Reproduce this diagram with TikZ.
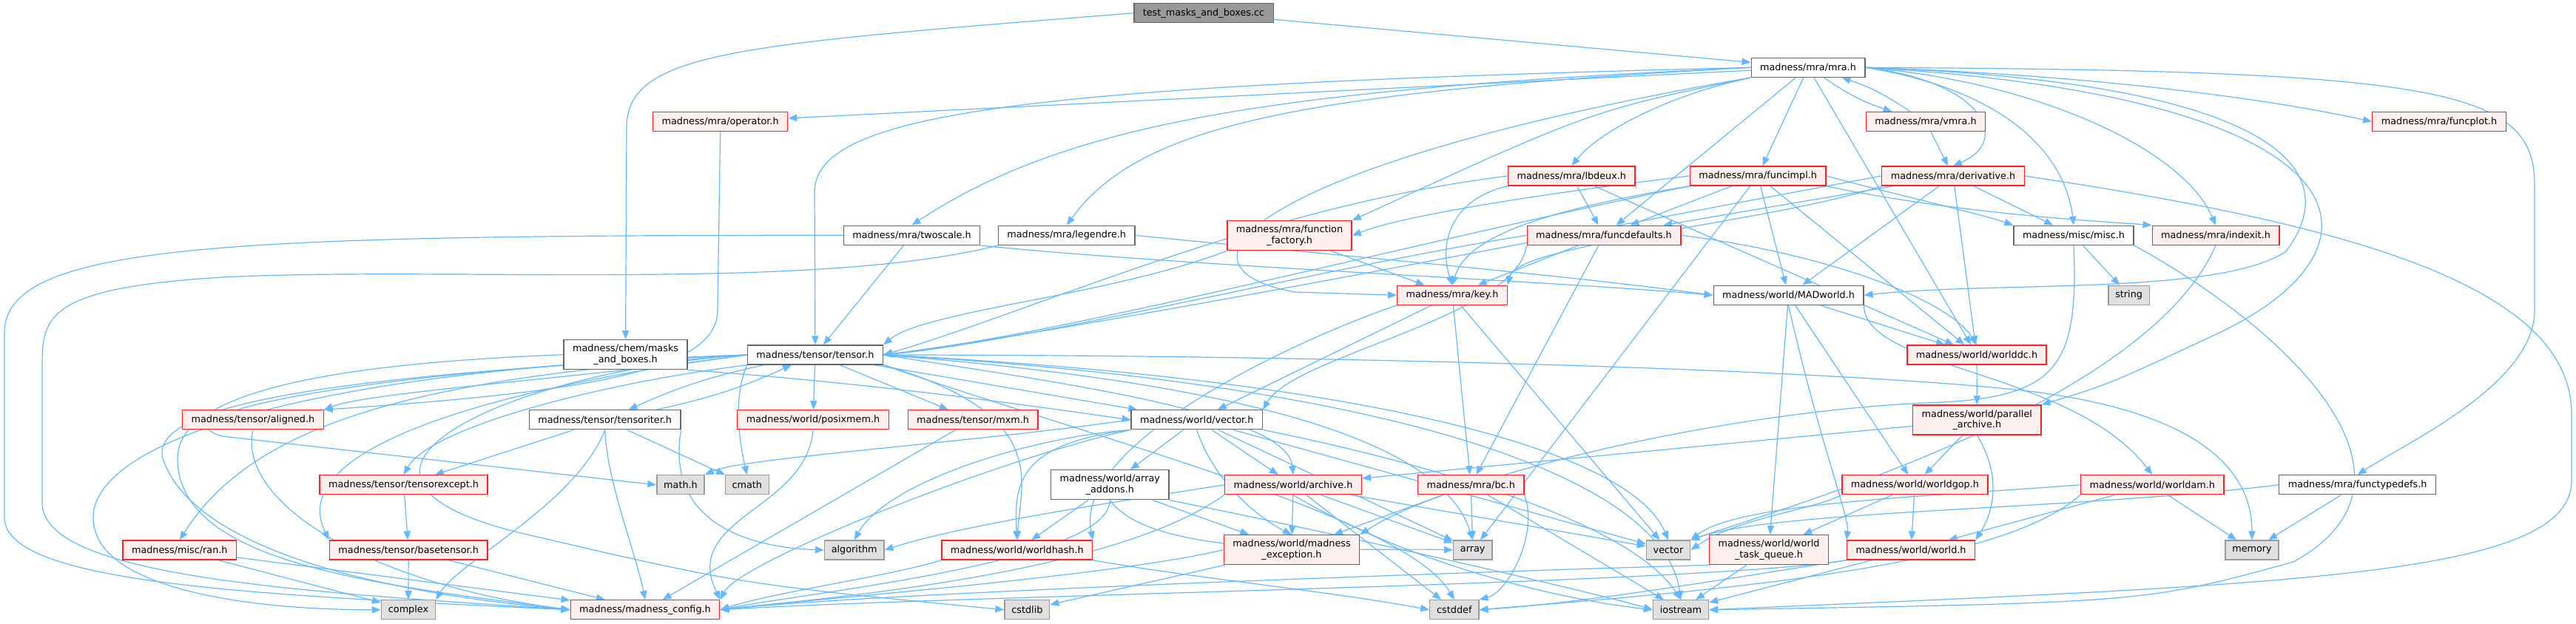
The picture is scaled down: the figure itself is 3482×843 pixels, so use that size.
\documentclass[tikz,border=0pt]{standalone}
\usepackage{fontspec}
\setmainfont{DejaVu Sans}
\usetikzlibrary{arrows.meta,backgrounds}
\definecolor{EdgeBlue}{HTML}{63B8FF}
\definecolor{RootFill}{HTML}{999999}
\definecolor{BoxLine}{HTML}{666666}
\definecolor{RedFill}{HTML}{FFF0F0}
\definecolor{RedLine}{HTML}{FF2020}
\definecolor{SysFill}{HTML}{E0E0E0}
\definecolor{SysLine}{HTML}{999999}

\tikzset{
  filebox/.style={draw=BoxLine, fill=white, line width=1pt, inner xsep=9pt, inner ysep=0pt,
                  minimum height=19.5pt, align=center, font=\fontsize{9.6}{11}\selectfont},
  redbox/.style={filebox, draw=RedLine, fill=RedFill},
  sysbox/.style={filebox, draw=SysLine, fill=SysFill, inner xsep=7pt},
  rootbox/.style={filebox, fill=RootFill},
  twoline/.style={minimum height=30pt},
  inc/.style={draw=EdgeBlue, line width=0.9pt, -{Triangle[length=9pt,width=7pt]}}
}

\begin{document}
\begin{tikzpicture}[x=0.75pt, y=-0.75pt]
  \useasboundingbox (0,0) rectangle (3482,843);

  % rank 0 - 3
  \node[rootbox] (root)     at (1627,17.7)  {test\_masks\_and\_boxes.cc};
  \node[filebox] (mra)      at (2444,91.3)  {madness/mra/mra.h};
  \node[redbox]  (oper)     at (973.6,164.5){madness/mra/operator.h};
  \node[redbox]  (vmra)     at (2603,164.5) {madness/mra/vmra.h};
  \node[redbox]  (fplot)    at (3297,164.5) {madness/mra/funcplot.h};
  \node[redbox]  (lbdeux)   at (2124.3,238) {madness/mra/lbdeux.h};
  \node[redbox]  (fimpl)    at (2376.2,238) {madness/mra/funcimpl.h};
  \node[redbox]  (deriv)    at (2640,238)   {madness/mra/derivative.h};
  % rank 4 - 5
  \node[filebox] (twoscale) at (1232.5,318.3){madness/mra/twoscale.h};
  \node[filebox] (legendre) at (1441.7,318.3){madness/mra/legendre.h};
  \node[redbox,twoline] (ffact) at (1743,318.7){madness/mra/function\\\_factory.h};
  \node[redbox]  (fdef)     at (2168,318.3) {madness/mra/funcdefaults.h};
  \node[filebox] (misc)     at (2803,318.3) {madness/misc/misc.h};
  \node[redbox]  (indexit)  at (2995,318.3) {madness/mra/indexit.h};
  \node[redbox]  (key)      at (1963,399.3) {madness/mra/key.h};
  \node[filebox] (madworld) at (2417.5,399.3){madness/world/MADworld.h};
  \node[sysbox]  (str)      at (2877.6,399.3){string};
  % rank 6 - 7
  \node[filebox,twoline] (masks) at (845.6,479.7){madness/chem/masks\\\_and\_boxes.h};
  \node[filebox] (tensor)   at (1101.9,480) {madness/tensor/tensor.h};
  \node[redbox]  (worlddc)  at (2672,480)   {madness/world/worlddc.h};
  \node[redbox]  (aligned)  at (341.9,567.8){madness/tensor/aligned.h};
  \node[filebox] (titer)    at (817.7,567.8){madness/tensor/tensoriter.h};
  \node[redbox]  (posix)    at (1099,567.8) {madness/world/posixmem.h};
  \node[redbox]  (mxm)      at (1315.1,567.8){madness/tensor/mxm.h};
  \node[filebox] (wvec)     at (1617.7,567.8){madness/world/vector.h};
  \node[redbox,twoline] (parch) at (2672.3,568){madness/world/parallel\\\_archive.h};
  % rank 8
  \node[redbox]  (texcept)  at (545.6,655.8){madness/tensor/tensorexcept.h};
  \node[sysbox]  (mathh)    at (920,655.8)  {math.h};
  \node[sysbox]  (cmath)    at (1009.8,655.8){cmath};
  \node[filebox,twoline] (aaddons) at (1500.3,655.8){madness/world/array\\\_addons.h};
  \node[redbox]  (archive)  at (1748,655.8) {madness/world/archive.h};
  \node[redbox]  (bc)       at (1988.2,655.8){madness/mra/bc.h};
  \node[redbox]  (wgop)     at (2588.4,655.8){madness/world/worldgop.h};
  \node[redbox]  (wam)      at (2909.3,655.8){madness/world/worldam.h};
  \node[filebox] (ftypes)   at (3186.6,655.8){madness/mra/functypedefs.h};
  % rank 9
  \node[redbox]  (ran)      at (242.8,744)  {madness/misc/ran.h};
  \node[redbox]  (btensor)  at (552.2,744)  {madness/tensor/basetensor.h};
  \node[sysbox]  (algo)     at (1154.7,744) {algorithm};
  \node[redbox]  (whash)    at (1374.8,744) {madness/world/worldhash.h};
  \node[redbox,twoline] (mexc) at (1746,743.7){madness/world/madness\\\_exception.h};
  \node[sysbox]  (array)    at (1990.7,744) {array};
  \node[sysbox]  (svec)     at (2255,744)   {vector};
  \node[redbox,twoline] (wtq) at (2391,743.7){madness/world/world\\\_task\_queue.h};
  \node[redbox]  (world)    at (2583,744)   {madness/world/world.h};
  \node[sysbox]  (memory)   at (3044,744)   {memory};
  % rank 10
  \node[sysbox]  (complex)  at (552,824.8)  {complex};
  \node[redbox]  (mconf)    at (872,824.8)  {madness/madness\_config.h};
  \node[sysbox]  (cstdlib)  at (1388.4,824.8){cstdlib};
  \node[sysbox]  (cstddef)  at (1965.8,824.8){cstddef};
  \node[sysbox]  (iostream) at (2272,824.8) {iostream};

  \begin{scope}[on background layer]
  % straight includes
  \foreach \a/\b in {root/mra, mra/oper, mra/fimpl, mra/fdef, mra/worlddc, vmra/deriv,
      twoscale/tensor, ffact/key, lbdeux/fdef, lbdeux/worlddc, fimpl/fdef, fimpl/madworld,
      fimpl/array, fimpl/worlddc, deriv/misc, deriv/fdef, deriv/madworld, deriv/worlddc,
      fdef/key, fdef/bc, key/bc, key/svec, key/wvec, madworld/worlddc, madworld/wgop,
      madworld/wtq, worlddc/parch, parch/wgop, parch/archive, wgop/wtq, wgop/world,
      wam/memory, wam/world, ftypes/memory, world/iostream, wtq/iostream, bc/array,
      bc/iostream, bc/mexc, archive/array, archive/svec, archive/mexc, archive/cstddef,
      aaddons/whash, aaddons/mexc, mexc/cstdlib, wvec/aaddons, wvec/archive, wvec/array,
      wvec/svec, tensor/posix, tensor/mxm, tensor/wvec, titer/texcept, titer/cmath,
      texcept/btensor, btensor/complex, btensor/mconf, ran/complex, ran/mconf,
      mxm/mconf, misc/str}
    \draw[inc] (\a) -- (\b);

  % mra.h and the upper ranks
  \draw[inc] (root.west) .. controls (1000,60) and (850,70) .. (847,170) -- (masks.north);
  \draw[inc] (mra.west) .. controls (1400,115) and (1101,150) .. (1101,260) -- (tensor.north);
  \draw[inc] (mra.west) .. controls (1750,120) and (1450,160) .. (twoscale.north);
  \draw[inc] (mra.west) .. controls (1750,125) and (1540,170) .. (legendre.north);
  \draw[inc] (mra.south west) .. controls (2150,150) .. (ffact.north east);
  \draw[inc] (mra.south west) .. controls (2250,130) and (2160,180) .. (lbdeux.north);
  \draw[inc] (mra.south west) .. controls (1700,220) and (1560,360) .. (1750,395) -- (key.west);
  \draw[inc] (mra) to[bend right=8] (vmra);
  \draw[inc] (vmra) to[bend right=8] (mra);
  \draw[inc] (mra.east) .. controls (2680,110) and (2720,190) .. (deriv.north);
  \draw[inc] (mra.east) .. controls (2700,120) and (2790,200) .. (misc.north);
  \draw[inc] (mra.east) .. controls (2750,110) and (2950,200) .. (indexit.north);
  \draw[inc] (mra.east) .. controls (2800,100) and (3050,130) .. (fplot.west);
  \draw[inc] (mra.east) .. controls (3300,95) and (3426,120) .. (3426,250) -- (3426,420)
    .. controls (3426,520) and (3250,600) .. (ftypes.north);
  \draw[inc] (mra.east) .. controls (3050,110) and (3180,220) .. (3090,340)
    .. controls (3000,400) and (2700,380) .. (madworld.east);
  \draw[inc] (mra.east) .. controls (3200,130) and (3250,330) .. (3000,450)
    .. controls (2850,520) .. (parch.north east);
  \draw[inc] (oper.south) -- (970,420) .. controls (970,500) and (800,530) .. (aligned.north east);

  % mra/*.h headers
  \draw[inc] (twoscale.south east) .. controls (1600,360) and (2100,380) .. (madworld.west);
  \draw[inc] (twoscale.west) .. controls (300,318) and (6,330) .. (6,450) -- (6,700)
    .. controls (6,790) and (350,805) .. (mconf.west);
  \draw[inc] (legendre.east) .. controls (1800,345) and (2100,370) .. (madworld.west);
  \draw[inc] (legendre.south west) .. controls (1100,395) and (600,360) .. (300,375)
    .. controls (57,390) and (57,430) .. (57,500) -- (57,680)
    .. controls (57,780) and (400,800) .. (mconf.west);
  \draw[inc] (ffact.south west) .. controls (1500,400) and (1250,420) .. (tensor.north east);
  \draw[inc] (lbdeux.south west) .. controls (1960,270) and (1945,330) .. (key.north);
  \draw[inc] (lbdeux.west) .. controls (1700,280) and (1400,420) .. (tensor.east);
  \draw[inc] (fimpl.west) .. controls (2100,260) and (1900,290) .. (ffact.east);
  \draw[inc] (fimpl.south west) .. controls (2050,290) and (1980,330) .. (key.north);
  \draw[inc] (fimpl.east) .. controls (2550,260) and (2680,290) .. (misc.north west);
  \draw[inc] (fimpl.south east) .. controls (2650,290) and (2850,300) .. (indexit.north west);
  \draw[inc] (fimpl.south west) .. controls (1900,330) and (1450,450) .. (tensor.east);
  \draw[inc] (deriv.east) .. controls (3150,300) and (3476,380) .. (3476,560) -- (3476,650)
    .. controls (3476,780) and (3100,790) .. (iostream.east);
  \draw[inc] (deriv.west) .. controls (2100,320) and (1500,440) .. (tensor.east);
  \draw[inc] (deriv.south west) .. controls (2400,300) and (2050,330) .. (key.north east);
  \draw[inc] (fdef.east) .. controls (2450,340) and (2630,400) .. (worlddc.north);
  \draw[inc] (fdef.south west) .. controls (2050,430) and (1750,480) .. (wvec.north east);
  \draw[inc] (fdef.west) .. controls (1800,360) and (1400,460) .. (tensor.east);
  \draw[inc] (key.south west) .. controls (1750,460) and (1450,600) .. (whash.north east);
  \draw[inc] (misc.south) .. controls (2810,500) and (2780,540) .. (2600,545)
    .. controls (2300,560) and (1950,650) .. (mexc.north east);
  \draw[inc] (misc.south east) .. controls (3100,450) and (3300,650) .. (3100,760)
    .. controls (2900,815) .. (iostream.east);
  \draw[inc] (indexit.south) .. controls (2900,550) and (2400,690) .. (svec.north east);

  % world headers
  \draw[inc] (madworld.south) .. controls (2460,600) and (2500,700) .. (world.north west);
  \draw[inc] (madworld.south east) .. controls (2520,500) and (2800,500) .. (wam.north);
  \draw[inc] (parch.south) .. controls (2710,650) and (2690,700) .. (world.north east);
  \draw[inc] (wam.west) .. controls (2600,672) and (2350,680) .. (svec.north east);
  \draw[inc] (wam.south west) .. controls (2700,770) and (2300,800) .. (cstddef.east);
  \draw[inc] (ftypes.west) .. controls (2800,690) and (2400,690) .. (svec.north east);
  \draw[inc] (wgop.south west) .. controls (2450,690) and (2350,700) .. (svec.east);
  \draw[inc] (world.south west) .. controls (2300,790) and (1300,805) .. (mconf.east);
  \draw[inc] (world.south west) .. controls (2350,780) and (2150,815) .. (cstddef.east);
  \draw[inc] (wtq.south west) .. controls (2100,770) and (1200,800) .. (mconf.east);
  \draw[inc] (bc.south east) .. controls (2080,720) and (2040,800) .. (cstddef.north east);
  \draw[inc] (archive.south) .. controls (1900,760) and (2100,810) .. (iostream.west);
  \draw[inc] (archive.west) .. controls (1500,680) and (1300,710) .. (algo.east);
  \draw[inc] (archive.south west) .. controls (1500,780) and (1100,810) .. (mconf.east);
  \draw[inc] (mexc.west) .. controls (1500,780) and (1100,810) .. (mconf.east);
  \draw[inc] (whash.south west) .. controls (1200,780) and (1050,800) .. (mconf.east);
  \draw[inc] (whash.south east) .. controls (1600,780) and (1800,800) .. (cstddef.west);
  \draw[inc] (aaddons.south) .. controls (1560,760) and (1850,740) .. (array.west);
  \draw[inc] (aaddons.south east) .. controls (1800,720) and (2150,800) .. (iostream.west);
  \draw[inc] (aaddons.south) .. controls (1500,760) and (1100,800) .. (mconf.east);
  \draw[inc] (wvec.south) .. controls (1640,650) and (1700,700) .. (mexc.north);
  \draw[inc] (wvec.south west) .. controls (1380,600) and (1370,650) .. (whash.north);
  \draw[inc] (wvec.south west) .. controls (1400,590) and (1200,650) .. (algo.north);
  \draw[inc] (wvec.west) .. controls (1300,600) and (1000,620) .. (mathh.north east);
  \draw[inc] (wvec.south west) .. controls (1350,620) and (1000,760) .. (mconf.north east);
  \draw[inc] (wvec.south east) .. controls (1900,620) and (2200,700) .. (iostream.north);

  % tensor headers
  \draw[inc] (tensor.west) .. controls (800,510) and (500,530) .. (aligned.north east);
  \draw[inc] (tensor) to[bend right=6] (titer);
  \draw[inc] (titer) to[bend right=6] (tensor);
  \draw[inc] (tensor.south west) .. controls (800,520) and (580,580) .. (texcept.north);
  \draw[inc] (tensor.west) .. controls (700,520) and (380,600) .. (btensor.north west);
  \draw[inc] (tensor.west) .. controls (600,510) and (350,560) .. (ran.north);
  \draw[inc] (tensor.west) .. controls (400,500) and (126,600) .. (126,700)
    .. controls (126,800) and (350,825) .. (complex.west);
  \draw[inc] (tensor.west) .. controls (500,505) and (200,540) .. (220,620)
    .. controls (260,740) and (500,800) .. (mconf.west);
  \draw[inc] (tensor.west) .. controls (500,500) and (200,560) .. (300,590) -- (mathh.west);
  \draw[inc] (tensor.south west) .. controls (990,540) and (1000,600) .. (cmath.north);
  \draw[inc] (tensor.west) .. controls (700,500) and (380,640) .. (700,720)
    .. controls (1000,790) .. (cstdlib.west);
  \draw[inc] (tensor.east) .. controls (1450,520) and (1740,560) .. (archive.north);
  \draw[inc] (tensor.south east) .. controls (1420,560) and (1380,650) .. (whash.north);
  \draw[inc] (tensor.east) .. controls (1700,520) and (1950,600) .. (array.north);
  \draw[inc] (tensor.east) .. controls (1800,510) and (2200,600) .. (svec.north);
  \draw[inc] (tensor.east) .. controls (1900,520) and (2250,650) .. (iostream.north);
  \draw[inc] (tensor.south east) .. controls (1500,600) and (1900,700) .. (cstddef.north);
  \draw[inc] (tensor.east) .. controls (1800,480) and (2500,500) .. (2750,530)
    .. controls (2980,560) and (3044,640) .. (memory.north);
  \draw[inc] (titer.south) .. controls (780,680) and (620,760) .. (complex.north east);
  \draw[inc] (titer.south) .. controls (820,650) and (860,750) .. (mconf.north);
  \draw[inc] (titer.south east) .. controls (900,700) and (1000,740) .. (algo.west);
  \draw[inc] (masks.south east) .. controls (1200,520) and (1400,550) .. (wvec.west);
  \draw[inc] (masks.west) .. controls (500,490) and (240,520) .. (240,620)
    .. controls (240,760) and (500,790) .. (mconf.west);
  \draw[inc] (aligned.south) .. controls (320,680) and (500,790) .. (mconf.west);
  \draw[inc] (posix.south) .. controls (1090,690) and (920,700) .. (mconf.north east);
  \end{scope}
\end{tikzpicture}
\end{document}
